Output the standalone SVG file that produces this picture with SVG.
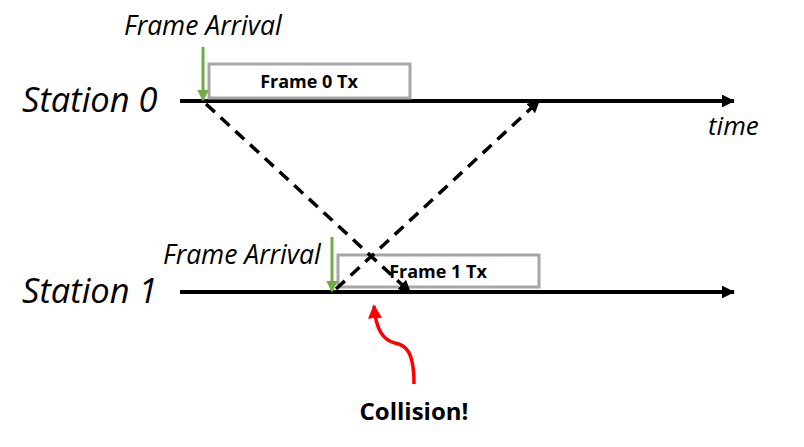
<svg xmlns="http://www.w3.org/2000/svg" width="804" height="447" viewBox="0 0 804 447">
<style>
.lbl{font-family:"Open Sans","Noto Sans","DejaVu Sans",sans-serif;font-style:italic;fill:#000}
.bold{font-family:"Open Sans","Noto Sans","DejaVu Sans",sans-serif;font-weight:bold;fill:#000}
.axis{stroke:#000;stroke-width:4;fill:none}
.box{fill:#fff;stroke:#A6A6A6;stroke-width:3}
.green{stroke:#70AD47;stroke-width:3;fill:none}
.dash{stroke:#000;stroke-width:3.5;stroke-dasharray:12,8;fill:none}
</style>
<defs>
<marker id="ah" markerWidth="3.2" markerHeight="3.2" refX="3" refY="1.6" orient="auto" markerUnits="strokeWidth"><path d="M0,0 L3.2,1.6 L0,3.2 Z" fill="#000"/></marker>
<marker id="ahd" markerWidth="3.6" markerHeight="3.6" refX="3.2" refY="1.8" orient="auto" markerUnits="strokeWidth"><path d="M0,0 L3.6,1.8 L0,3.6 Z" fill="#000"/></marker>
<marker id="ahg" markerWidth="4" markerHeight="4" refX="3.5" refY="2" orient="auto" markerUnits="strokeWidth"><path d="M0,0 L4,2 L0,4 Z" fill="#70AD47"/></marker>
<marker id="ahr" markerWidth="4" markerHeight="4" refX="3.5" refY="2" orient="auto" markerUnits="strokeWidth"><path d="M0,0 L4,2 L0,4 Z" fill="#FF0000"/></marker>
</defs>
<rect width="804" height="447" fill="#fff"/>
<g id="station0">
<text class="lbl" x="22" y="112" font-size="34.5">Station 0</text>
<line class="axis" x1="180" y1="101" x2="734" y2="101" marker-end="url(#ah)"/>
<text class="lbl" x="708" y="135" font-size="26">time</text>
</g>
<g id="station1">
<text class="lbl" x="22" y="303" font-size="34.5">Station 1</text>
<line class="axis" x1="180" y1="292" x2="734" y2="292" marker-end="url(#ah)"/>
</g>
<g id="frame0">
<rect class="box" x="209" y="64" width="201" height="34"/>
<text class="bold" x="309" y="88" font-size="18" text-anchor="middle">Frame 0 Tx</text>
</g>
<g id="frame1">
<rect class="box" x="338" y="255" width="201" height="32"/>
<text class="bold" x="438" y="278" font-size="18" text-anchor="middle">Frame 1 Tx</text>
</g>
<g id="arrival0">
<text class="lbl" x="124" y="35" font-size="26.5">Frame Arrival</text>
<line class="green" x1="203" y1="47" x2="203" y2="100" marker-end="url(#ahg)"/>
</g>
<g id="arrival1">
<text class="lbl" x="163" y="264" font-size="26.5">Frame Arrival</text>
<line class="green" x1="332" y1="237" x2="332" y2="291" marker-end="url(#ahg)"/>
</g>
<g id="collision">
<text class="bold" x="414" y="420" font-size="24" text-anchor="middle">Collision!</text>
</g>
<g id="connectors">
<line class="dash" x1="206" y1="104" x2="410" y2="292" marker-end="url(#ahd)"/>
<line class="dash" x1="336" y1="289" x2="539" y2="101" marker-end="url(#ahd)"/>
<path d="M414,384 C414,350 405,345 395,343 C383,340 376,330 374,306" stroke="#FF0000" stroke-width="3.5" fill="none" marker-end="url(#ahr)"/>
</g>
</svg>
